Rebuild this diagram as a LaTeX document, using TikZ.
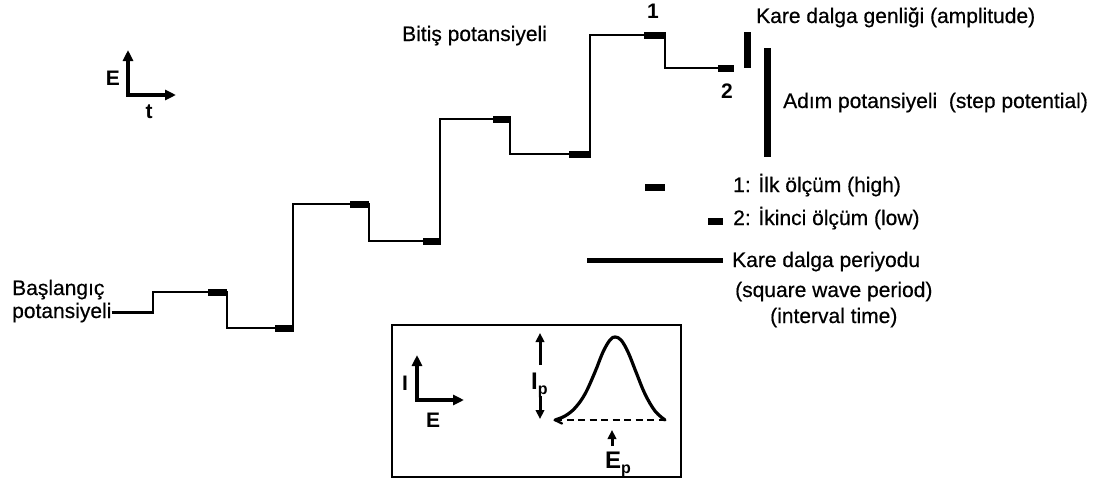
\documentclass[tikz,border=0pt]{standalone}
\usepackage{fontspec}
\setmainfont{Liberation Sans}[UprightFeatures={FakeBold=0.5}]
\usetikzlibrary{arrows.meta}

\begin{document}
\begin{tikzpicture}[x=1pt,y=-1pt,
  txt/.style={font=\fontsize{21}{20}\selectfont, inner sep=0pt, anchor=base west},
  bld/.style={font=\fontsize{21}{20}\selectfont\bfseries, inner sep=0pt, anchor=base},
  sub/.style={font=\fontsize{24}{24}\selectfont\bfseries, inner sep=0pt, anchor=base west},
  wave/.style={line width=2.4pt, line join=miter},
  axes/.style={line width=3.2pt, line join=miter,
    {Triangle[length=11pt,width=10pt]}-{Triangle[length=11pt,width=10pt]}},
  uparrow/.style={line width=3pt, -{Triangle[length=9pt,width=8.5pt]}},
]
\useasboundingbox (0,0) rectangle (1104,482);

% start label and staircase with square-wave modulation
\node[txt] (start1) at (12,295) {Başlangıç};
\node[txt] (start2) at (12,318) {potansiyeli};
\coordinate (w1) at (153,292);
\coordinate (wend) at (733,68);
\draw[wave] (start2.east) -| (w1) -- (227,292) |- (293,328) |- (369,204)
  |- (440,241) |- (510,119) |- (590,154) |- (665,35) |- (wend);

% sampling marks at the end of each half period
\foreach \xa/\xb/\yy in {208/227/292, 275/294/328, 350/369/204, 423/441/241,
                          493/511/119, 569/591/154, 644/666/35, 718/734/68}
  \fill (\xa,\yy-3.5) rectangle (\xb,\yy+3.5);

\node[txt] (finish) at (402,41) {Bitiş potansiyeli};
\node[bld] (one) at (653,18) {1};
\node[bld] (two) at (727,98) {2};

% amplitude and step bars
\fill (743.5,32) rectangle (750.5,68);
\fill (763.5,48) rectangle (770.5,157);
\node[txt] (amp) at (756,23) {Kare dalga genliği (amplitude)};
\node[txt] (stepl) at (783,108) {Adım potansiyeli \ (step potential)};

% legend
\fill (645,184) rectangle (665,190.5);
\node[txt] (high) at (733,192) {1: İlk ölçüm (high)};
\fill (708,218) rectangle (723,224.5);
\node[txt] (low) at (733,225) {2: İkinci ölçüm (low)};
\fill (587,257.5) rectangle (723,263);
\node[txt] (per1) at (732,267) {Kare dalga periyodu};
\node[txt] (per2) at (735,297) {(square wave period)};
\node[txt] (per3) at (770,323) {(interval time)};

% E-t axes
\draw[axes] (128,50) -- (128,95) -- (176,95);
\node[bld] (eaxis) at (113,85) {E};
\node[bld] (taxis) at (149,118) {t};

% inset: square wave voltammogram
\draw[line width=1.5pt] (392,325) rectangle (681,477);
\draw[axes] (417,355) -- (417,400) -- (464,400);
\node[bld] (iaxis) at (405,390) {I};
\node[bld] (eaxis2) at (433,427) {E};

\draw[uparrow] (540,365) -- (540,333);
\draw[uparrow] (540,396) -- (540,419);
\node[sub] (ip) at (531,389) {I\raisebox{-5pt}{\fontsize{16}{16}\selectfont p}};

\draw[line width=2.2pt, dash pattern=on 7pt off 4.5pt] (555,420) -- (665,420);
\draw[line width=3.2pt, line join=round, line cap=round]
  plot[smooth, tension=0.6] coordinates {(555,420) (565,416) (575,408) (585,394)
  (595,372) (603,352) (610,340) (615,337) (621,340) (628,352) (636,372)
  (645,394) (655,411) (665,420)};
\draw[line width=2.4pt, line cap=round] (555,420) -- (562,423.5);

\draw[uparrow] (612,446) -- (612,430);
\node[sub] (ep) at (605,468) {E\raisebox{-5pt}{\fontsize{16}{16}\selectfont p}};
\end{tikzpicture}
\end{document}
